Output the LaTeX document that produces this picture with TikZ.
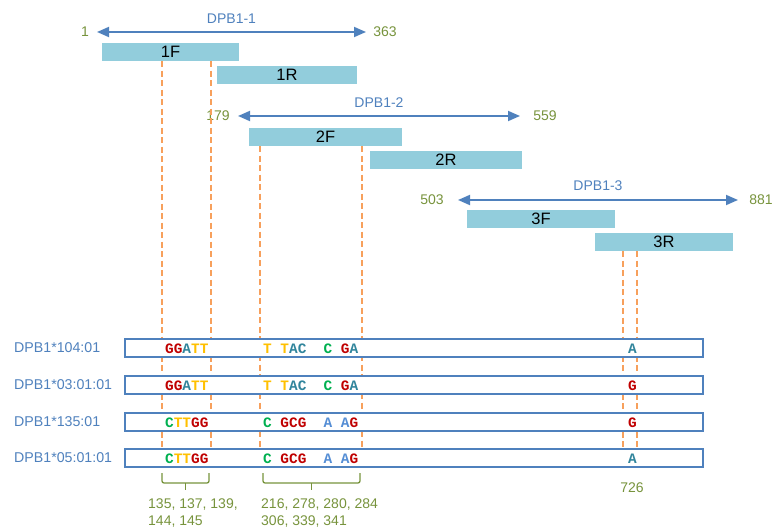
\documentclass[tikz,border=0pt]{standalone}
\usepackage{fontspec}
\setmainfont{Liberation Sans}
\setmonofont{Liberation Mono}
\usetikzlibrary{arrows.meta}
\definecolor{spanblue}{HTML}{4F81BD}
\definecolor{posgreen}{HTML}{77933C}
\definecolor{primerfill}{HTML}{92CDDC}
\definecolor{cutorange}{HTML}{F7A05C}
\definecolor{baseG}{HTML}{C00000}
\definecolor{baseA}{HTML}{31859C}
\definecolor{baseT}{HTML}{FFC000}
\definecolor{baseC}{HTML}{00B050}
\definecolor{baseB}{HTML}{558ED5}
\newcommand{\nG}{\textcolor{baseG}{G}}
\newcommand{\nA}{\textcolor{baseA}{A}}
\newcommand{\nT}{\textcolor{baseT}{T}}
\newcommand{\nC}{\textcolor{baseC}{C}}

\begin{document}
\begin{tikzpicture}[x=1pt,y=-1pt,>={Triangle[length=12pt,width=10pt]},
  span/.style={<->,draw=spanblue,line width=1.8pt},
  spanname/.style={text=spanblue,font=\fontsize{14}{16}\selectfont,inner sep=0pt},
  posnum/.style={text=posgreen,font=\fontsize{14}{16}\selectfont,inner sep=0pt},
  primer/.style={fill=primerfill,minimum height=18pt,inner sep=0pt,font=\fontsize{16.5}{18}\selectfont},
  cut/.style={draw=cutorange,line width=1.3pt,dash pattern=on 6pt off 3.5pt},
  allele/.style={draw=spanblue,line width=1.8pt,fill=white,minimum width=578pt,minimum height=18pt,inner sep=0pt},
  allelename/.style={text=spanblue,font=\fontsize{14.2}{16}\selectfont,anchor=west,inner sep=0pt},
  seq/.style={font=\fontsize{14.4}{16}\ttfamily\bfseries,anchor=base west,inner sep=0pt},
  brace/.style={draw=posgreen,line width=1.3pt,rounded corners=2pt}]
\useasboundingbox (0,0) rectangle (772,532);

% amplicon spans
\coordinate (s1l) at (97,32);  \coordinate (s1r) at (366,32);
\coordinate (s2l) at (238,116); \coordinate (s2r) at (520,116);
\coordinate (s3l) at (458,200); \coordinate (s3r) at (738,200);
\draw[span] (s1l) -- (s1r) node[midway,above=8pt,spanname]{DPB1-1};
\draw[span] (s2l) -- (s2r) node[midway,above=8pt,spanname]{DPB1-2};
\draw[span] (s3l) -- (s3r) node[midway,above=8pt,spanname]{DPB1-3};
\node[posnum] (p1) at (85,32) {1};
\node[posnum] (p363) at (385,32) {363};
\node[posnum] (p179) at (218,116) {179};
\node[posnum] (p559) at (545,116) {559};
\node[posnum] (p503) at (432,200) {503};
\node[posnum] (p881) at (761,200) {881};

% primers
\node[primer,minimum width=137pt] (1F) at (170.5,52) {1F};
\node[primer,minimum width=140pt] (1R) at (287,75) {1R};
\node[primer,minimum width=153pt] (2F) at (325.5,137) {2F};
\node[primer,minimum width=152pt] (2R) at (446,160) {2R};
\node[primer,minimum width=148pt] (3F) at (541,219) {3F};
\node[primer,minimum width=138pt] (3R) at (664,242) {3R};

% cut lines
\coordinate (c1) at (162,458); \coordinate (c2) at (211,458);
\coordinate (c3) at (260,458); \coordinate (c4) at (362,458);
\coordinate (c5) at (623,458); \coordinate (c6) at (637,458);
\draw[cut] (1F.south -| c1) -- (c1);
\draw[cut] (1F.south -| c2) -- (c2);
\draw[cut] (2F.south -| c3) -- (c3);
\draw[cut] (2F.south -| c4) -- (c4);
\draw[cut] (3R.south -| c5) -- (c5);
\draw[cut] (3R.south -| c6) -- (c6);

% alleles
\node[allele] (r1) at (414,348) {};
\node[allele] (r2) at (414,385) {};
\node[allele] (r3) at (414,422) {};
\node[allele] (r4) at (414,458) {};
\node[allelename] (n1) at (14,348) {DPB1*104:01};
\node[allelename] (n2) at (14,385) {DPB1*03:01:01};
\node[allelename] (n3) at (14,422) {DPB1*135:01};
\node[allelename] (n4) at (14,458) {DPB1*05:01:01};

\node[seq] (q1a) at (165,353.5) {\nG\nG\nA\nT\nT};
\node[seq] (q1b) at (263,353.5) {\nT\ \nT\nA\textcolor{baseA}{C}\ \ \nC\ \nG\nA};
\node[seq] (q1c) at (628,353.5) {\nA};
\node[seq] (q2a) at (165,390.5) {\nG\nG\nA\nT\nT};
\node[seq] (q2b) at (263,390.5) {\nT\ \nT\nA\textcolor{baseA}{C}\ \ \nC\ \nG\nA};
\node[seq] (q2c) at (628,390.5) {\nG};
\node[seq] (q3a) at (165,427.5) {\nC\nT\nT\nG\nG};
\node[seq] (q3b) at (263,427.5) {\nC\ \nG\textcolor{baseG}{C}\nG\ \ \textcolor{baseB}{A}\ \textcolor{baseB}{A}\nG};
\node[seq] (q3c) at (628,427.5) {\nG};
\node[seq] (q4a) at (165,463.5) {\nC\nT\nT\nG\nG};
\node[seq] (q4b) at (263,463.5) {\nC\ \nG\textcolor{baseG}{C}\nG\ \ \textcolor{baseB}{A}\ \textcolor{baseB}{A}\nG};
\node[seq] (q4c) at (628,463.5) {\nA};

% position braces
\coordinate (b1l) at (162,473); \coordinate (b1r) at (209,473);
\coordinate (b1m) at (185.5,490);
\draw[brace] (b1l) |- (b1m |- 0,483) -| (b1r);
\draw[brace] (b1m |- 0,483) -- (b1m);
\coordinate (b2l) at (263,473); \coordinate (b2r) at (360,473);
\coordinate (b2m) at (311.5,490);
\draw[brace] (b2l) |- (b2m |- 0,483) -| (b2r);
\draw[brace] (b2m |- 0,483) -- (b2m);
\node[posnum,anchor=north west,align=left,font=\fontsize{14}{16.5}\selectfont] (l1) at (148,499) {135, 137, 139,\\144, 145};
\node[posnum,anchor=north west,align=left,font=\fontsize{14}{16.5}\selectfont] (l2) at (261,499) {216, 278, 280, 284\\306, 339, 341};
\node[posnum] (l3) at (632,488) {726};
\end{tikzpicture}
\end{document}
